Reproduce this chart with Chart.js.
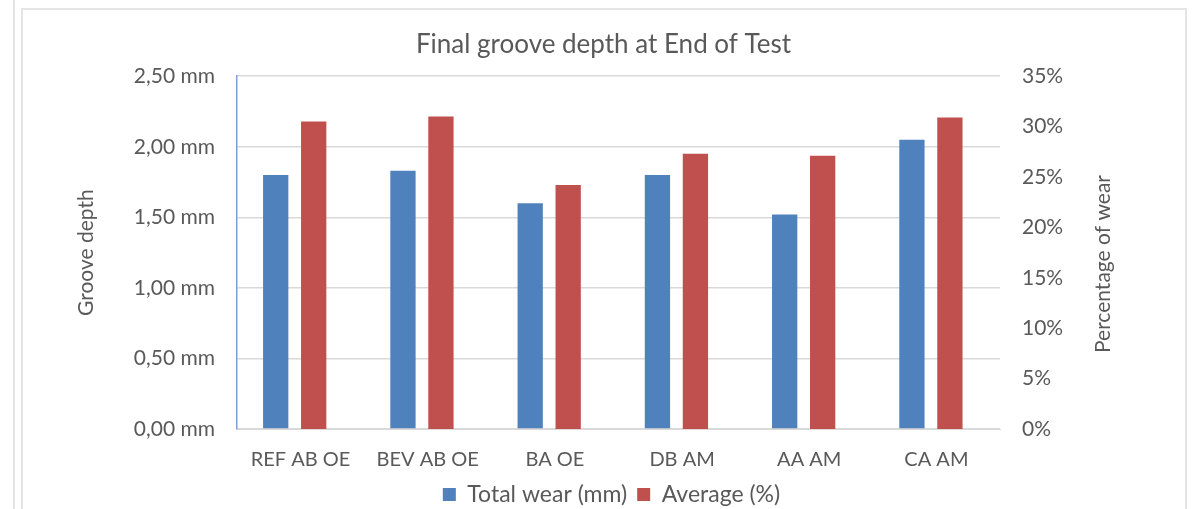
<!DOCTYPE html>
<html>
<head>
<meta charset="utf-8">
<script src="https://cdn.jsdelivr.net/npm/chart.js@4/dist/chart.umd.min.js"></script>
<style>
  html, body { margin: 0; padding: 0; background: #ffffff; }
  body { width: 1192px; height: 509px; position: relative; overflow: hidden; }
  .frame-outer { position: absolute; left: 13px; top: 0; width: 2px; height: 509px; background: #e4e4e4; }
  .frame-box { position: absolute; left: 21px; top: 8px; width: 1162px; height: 520px;
               border-left: 2px solid #e4e4e4; border-top: 2px solid #e4e4e4; border-right: 2px solid #e4e4e4; }
  canvas { position: absolute; left: 0; top: 0; }
</style>
</head>
<body>
<div class="frame-outer"></div>
<div class="frame-box"></div>
<canvas id="chart" width="1192" height="509"></canvas>
<script>
// Groove test results per configuration
const categories = ['REF AB OE', 'BEV AB OE', 'BA OE', 'DB AM', 'AA AM', 'CA AM'];
const totalWearMm = [1.80, 1.83, 1.60, 1.80, 1.52, 2.05];
const averagePct = [30.5, 31.0, 24.2, 27.3, 27.1, 30.9];
const mmTicks = [0, 0.5, 1.0, 1.5, 2.0, 2.5];
const pctTicks = [0, 5, 10, 15, 20, 25, 30, 35];

const FONT = 'Lato, "Liberation Sans", sans-serif';
const TEXT = '#595959';

// right-hand axis caption, reading bottom to top
const rightTitle = {
  id: 'rightTitle',
  afterDraw(chart) {
    const ctx = chart.ctx;
    ctx.save();
    ctx.translate(1103, 264);
    ctx.rotate(-Math.PI / 2);
    ctx.font = '21px ' + FONT;
    ctx.fillStyle = TEXT;
    ctx.textAlign = 'center';
    ctx.textBaseline = 'middle';
    ctx.fillText('Percentage of wear', 0, 0);
    ctx.restore();
  }
};

// nudge the legend row slightly to the right of the page centre
const legendShift = {
  id: 'legendShift',
  afterLayout(chart) {
    if (chart.legend) { chart.legend.left += 16; }
  }
};

new Chart(document.getElementById('chart'), {
  type: 'bar',
  data: {
    labels: categories,
    datasets: [
      {
        label: 'Total wear (mm)',
        data: totalWearMm.map((v, i) => ({ x: i, y: v })),
        backgroundColor: '#4F81BD',
        xAxisID: 'xb',
        yAxisID: 'y'
      },
      {
        label: 'Average (%)',
        data: averagePct.map((v, i) => ({ x: i, y: v })),
        backgroundColor: '#C0504D',
        xAxisID: 'xb',
        yAxisID: 'y1'
      }
    ]
  },
  options: {
    responsive: false,
    devicePixelRatio: 1,
    animation: false,
    categoryPercentage: 0.597,
    barPercentage: 0.666,
    layout: { padding: { left: 15, right: 0, top: 0, bottom: 0 } },
    plugins: {
      title: {
        display: true,
        text: 'Final groove depth at End of Test',
        color: TEXT,
        font: { family: FONT, size: 26, weight: 'normal' },
        padding: { top: 29, bottom: 16 }
      },
      legend: {
        position: 'bottom',
        maxHeight: 36,
        labels: {
          color: TEXT,
          font: { family: FONT, size: 23 },
          boxWidth: 13,
          boxHeight: 13,
          padding: 10
        }
      },
      tooltip: { enabled: false }
    },
    scales: {
      x: {
        type: 'category',
        offset: true,
        grid: { display: false, offset: true, drawTicks: false },
        border: { display: true, color: '#d9d9d9' },
        ticks: { color: TEXT, font: { family: FONT, size: 20 }, padding: 19, maxRotation: 0, autoSkip: false },
        afterFit(s) { s.height = 44; }
      },
      xb: {
        type: 'linear',
        display: false,
        offset: false,
        min: -0.4535,
        max: 5.543,
        grid: { offset: false },
        afterBuildTicks(s) { s.ticks = categories.map((c, i) => ({ value: i })); }
      },
      y: {
        position: 'left',
        min: 0,
        max: 2.5,
        afterBuildTicks(s) { s.ticks = mmTicks.map(v => ({ value: v })); },
        grid: { color: '#d9d9d9', lineWidth: 1.5, drawTicks: false },
        border: { display: true, color: '#7f9fcf', width: 1.5 },
        ticks: {
          color: TEXT,
          font: { family: FONT, size: 21 },
          padding: 22,
          callback: v => v.toFixed(2).replace('.', ',') + ' mm'
        },
        title: {
          display: true,
          text: 'Groove depth',
          color: TEXT,
          font: { family: FONT, size: 21 },
          padding: { top: 59, bottom: 4 }
        },
        afterFit(s) { s.width = 222; }
      },
      y1: {
        position: 'right',
        min: 0,
        max: 35,
        afterBuildTicks(s) { s.ticks = pctTicks.map(v => ({ value: v })); },
        grid: { display: false, drawTicks: false },
        border: { display: false },
        ticks: {
          color: TEXT,
          font: { family: FONT, size: 21 },
          padding: 22,
          callback: v => v + '%'
        },
        afterFit(s) { s.width = 192; }
      }
    }
  },
  plugins: [rightTitle, legendShift]
});
</script>
</body>
</html>
